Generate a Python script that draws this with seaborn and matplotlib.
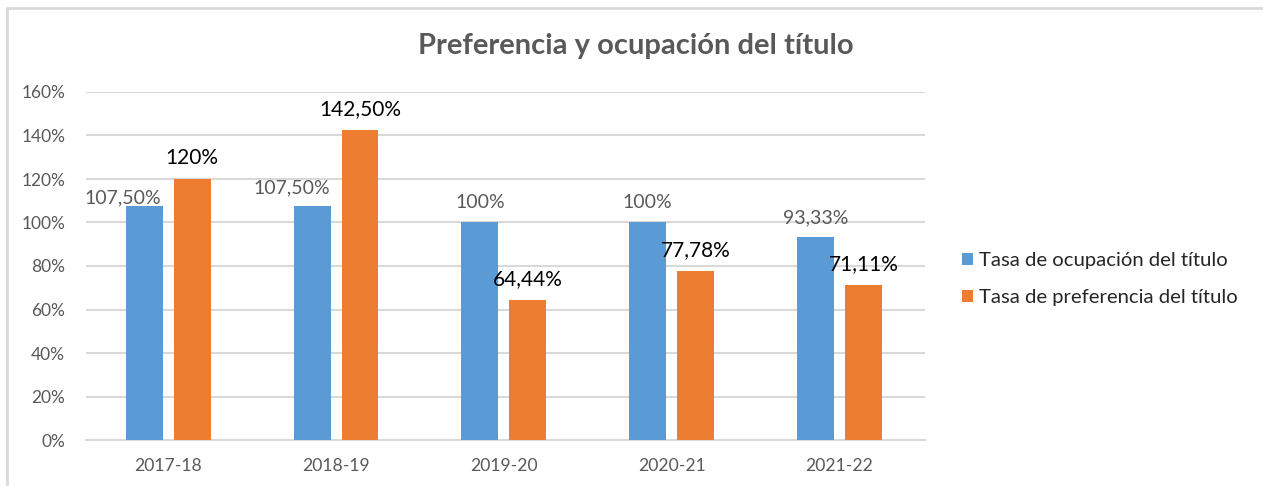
import numpy as np
import pandas as pd
import matplotlib
matplotlib.use("Agg")
import matplotlib.pyplot as plt
import seaborn as sns
from matplotlib.patches import Patch
from matplotlib.lines import Line2D

# ---------------- data ----------------
categories = ["2017-18", "2018-19", "2019-20", "2020-21", "2021-22"]
series_names = ["Tasa de ocupación del título", "Tasa de preferencia del título"]
ocupacion = [107.50, 107.50, 100.00, 100.00, 93.33]
preferencia = [120.00, 142.50, 64.44, 77.78, 71.11]
ocupacion_labels = ["107,50%", "107,50%", "100%", "100%", "93,33%"]
preferencia_labels = ["120%", "142,50%", "64,44%", "77,78%", "71,11%"]
yticks = [0, 20, 40, 60, 80, 100, 120, 140, 160]
ytick_labels = ["0%", "20%", "40%", "60%", "80%", "100%", "120%", "140%", "160%"]
title = "Preferencia y ocupación del título"

df = pd.DataFrame({
    "Curso": categories * 2,
    "Serie": [series_names[0]] * len(categories) + [series_names[1]] * len(categories),
    "Valor": ocupacion + preferencia,
})

# ---------------- style ----------------
sns.set_theme(style="white")
plt.rcParams["font.family"] = ["Lato", "DejaVu Sans"]
BLUE = "#5B9BD5"
ORANGE = "#ED7D31"
GREY_TXT = "#595959"
GRID = "#D9D9D9"

W, H, DPI = 1263, 486, 100
fig = plt.figure(figsize=(W / DPI, H / DPI), dpi=DPI)
fig.patch.set_facecolor("white")

# axes placement (pixels -> figure fraction)
ax_l, ax_r, ax_top, ax_bot = 86, 925, 92, 440
ax = fig.add_axes([ax_l / W, 1 - ax_bot / H, (ax_r - ax_l) / W, (ax_bot - ax_top) / H])

sns.barplot(data=df, x="Curso", y="Valor", hue="Serie", order=categories,
            hue_order=series_names, palette=[BLUE, ORANGE], saturation=1,
            width=0.572, gap=0.23, linewidth=0, legend=False, ax=ax, zorder=3)

ax.set_ylim(0, 160)
ax.set_xlim(-0.49, 4.51)
ax.set_yticks(yticks)
ax.set_yticklabels(ytick_labels)
ax.set_xlabel("")
ax.set_ylabel("")
for s in ["top", "right", "left"]:
    ax.spines[s].set_visible(False)
ax.spines["bottom"].set_color(GRID)
ax.spines["bottom"].set_linewidth(1.5)
ax.spines["bottom"].set_zorder(2)
ax.yaxis.grid(True, color=GRID, linewidth=1.5, zorder=0)
ax.set_axisbelow(True)
ax.tick_params(axis="y", length=0, pad=15, labelsize=12.5, labelcolor=GREY_TXT)
ax.tick_params(axis="x", length=0, pad=13, labelsize=12.6, labelcolor=GREY_TXT)

# data labels
px2pt = 72 / DPI
blue_dx = [-21, -20, 0, 0, 0]
blue_dy = [2.5, 12.5, 14, 14, 14]
for i, bar in enumerate(ax.containers[0]):
    x = bar.get_x() + bar.get_width() / 2
    h = bar.get_height()
    ax.annotate(ocupacion_labels[i], (x, h), xytext=(blue_dx[i] * px2pt, blue_dy[i] * px2pt),
                textcoords="offset points", ha="center", va="baseline",
                fontsize=14, color=GREY_TXT, zorder=5)
for i, bar in enumerate(ax.containers[1]):
    x = bar.get_x() + bar.get_width() / 2
    h = bar.get_height()
    ax.annotate(preferencia_labels[i], (x, h), xytext=(0, 15 * px2pt),
                textcoords="offset points", ha="center", va="baseline",
                fontsize=15, color="black", zorder=5)

# title
fig.text(636 / W, 1 - 46 / H, title, ha="center", va="center", fontsize=21,
         fontweight="bold", color=GREY_TXT)

# legend
handles = [Patch(facecolor=BLUE, edgecolor="none"), Patch(facecolor=ORANGE, edgecolor="none")]
leg = fig.legend(handles, series_names, loc="center left",
                 bbox_to_anchor=(952 / W, 1 - 279 / H), frameon=False,
                 fontsize=14.6, labelcolor="#262626", handlelength=0.55, handleheight=0.55,
                 handletextpad=0.3, labelspacing=1.0, borderpad=0)

# outer chart frame (top and left edges visible)
fig.add_artist(Line2D([7 / W, 1.0], [1 - 8 / H, 1 - 8 / H], color=GRID, linewidth=2,
                      transform=fig.transFigure))
fig.add_artist(Line2D([7 / W, 7 / W], [1 - 8 / H, 1 - 485 / H], color=GRID, linewidth=2,
                      transform=fig.transFigure))

fig.savefig("out.png", dpi=DPI, facecolor="white")
